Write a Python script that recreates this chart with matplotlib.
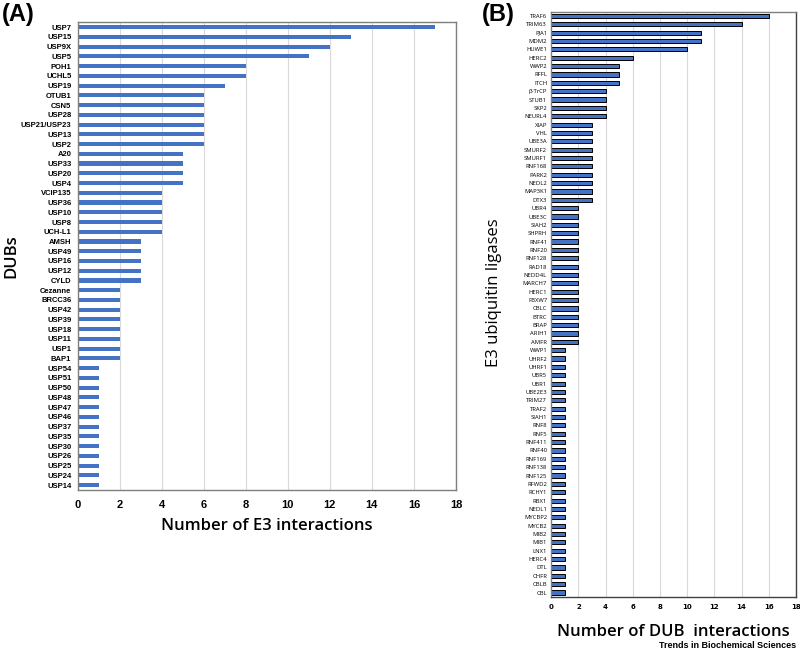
import matplotlib
matplotlib.use("Agg")
import matplotlib.pyplot as plt
import numpy as np

# Panel A: DUBs and number of E3 interactions (top to bottom)
dubs = ["USP7", "USP15", "USP9X", "USP5", "POH1", "UCHL5", "USP19", "OTUB1",
        "CSN5", "USP28", "USP21/USP23", "USP13", "USP2", "A20", "USP33", "USP20",
        "USP4", "VCIP135", "USP36", "USP10", "USP8", "UCH-L1", "AMSH", "USP49",
        "USP16", "USP12", "CYLD", "Cezanne", "BRCC36", "USP42", "USP39", "USP18",
        "USP11", "USP1", "BAP1", "USP54", "USP51", "USP50", "USP48", "USP47",
        "USP46", "USP37", "USP35", "USP30", "USP26", "USP25", "USP24", "USP14"]
dub_counts = [17, 13, 12, 11, 8, 8, 7, 6,
              6, 6, 6, 6, 6, 5, 5, 5,
              5, 4, 4, 4, 4, 4, 3, 3,
              3, 3, 3, 2, 2, 2, 2, 2,
              2, 2, 2, 1, 1, 1, 1, 1,
              1, 1, 1, 1, 1, 1, 1, 1]

# Panel B: E3 ligases and number of DUB interactions (top to bottom)
e3s = ["TRAF6", "TRIM63", "PJA1", "MDM2", "HUWE1", "HERC2", "WWP2", "RFFL",
       "ITCH", "β-TrCP", "STUB1", "SKP2", "NEURL4", "XIAP", "VHL", "UBE3A",
       "SMURF2", "SMURF1", "RNF168", "PARK2", "NEDL2", "MAP3K1", "DTX3", "UBR4",
       "UBE3C", "SIAH2", "SHPRH", "RNF41", "RNF20", "RNF128", "RAD18", "NEDD4L",
       "MARCH7", "HERC1", "FBXW7", "CBLC", "BTRC", "BRAP", "ARIH1", "AMFR",
       "WWP1", "UHRF2", "UHRF1", "UBR5", "UBR1", "UBE2E3", "TRIM27", "TRAF2",
       "SIAH1", "RNF8", "RNF5", "RNF411", "RNF40", "RNF169", "RNF138", "RNF125",
       "RFWD2", "RCHY1", "RBX1", "NEDL1", "MYCBP2", "MYCB2", "MIB2", "MIB1",
       "LNX1", "HERC4", "DTL", "CHFR", "CBLB", "CBL"]
e3_counts = [16, 14, 11, 11, 10, 6, 5, 5,
             5, 4, 4, 4, 4, 3, 3, 3,
             3, 3, 3, 3, 3, 3, 3, 2,
             2, 2, 2, 2, 2, 2, 2, 2,
             2, 2, 2, 2, 2, 2, 2, 2,
             1, 1, 1, 1, 1, 1, 1, 1,
             1, 1, 1, 1, 1, 1, 1, 1,
             1, 1, 1, 1, 1, 1, 1, 1,
             1, 1, 1, 1, 1, 1]

xticks = list(range(0, 19, 2))
bar_blue = "#4472C4"
frame_grey = "#7f7f7f"

fig = plt.figure(figsize=(8, 6.55), dpi=100)


def style_axes(ax):
    ax.set_xlim(0, 18)
    ax.set_xticks(xticks)
    ax.grid(axis="x", color="#d9d9d9", linewidth=0.8)
    ax.set_axisbelow(True)
    for s in ax.spines.values():
        s.set_color(frame_grey)
        s.set_linewidth(1.0)
    ax.tick_params(axis="both", length=0, pad=3)


# --- Panel A ---
axA = fig.add_axes([0.097, 0.252, 0.473, 0.714])
yA = np.arange(len(dubs))
axA.barh(yA, dub_counts, height=0.42, color=bar_blue)
axA.set_yticks(yA)
axA.set_yticklabels(dubs, fontsize=5.5, fontweight="bold", family="Liberation Sans")
axA.set_ylim(len(dubs) - 0.5, -0.5)
style_axes(axA)
axA.tick_params(axis="y", pad=4.5)
for lab in axA.get_xticklabels():
    lab.set_fontsize(8)
    lab.set_fontweight("bold")
    lab.set_family("Liberation Sans")
axA.tick_params(axis="x", pad=7)
axA.set_xlabel("Number of E3 interactions", fontsize=12, fontweight="semibold",
               family="Open Sans", labelpad=6)
axA.set_ylabel("DUBs", fontsize=12, fontweight="semibold", family="Open Sans")
axA.yaxis.set_label_coords(-0.155, 0.5)
fig.text(0.002, 0.995, "(A)", fontsize=17, fontweight="bold", family="Liberation Sans",
         ha="left", va="top")

# --- Panel B ---
axB = fig.add_axes([0.689, 0.089, 0.306, 0.893])
yB = np.arange(len(e3s))
axB.barh(yB, e3_counts, height=0.5, color=bar_blue, edgecolor="black", linewidth=0.7)
axB.set_yticks(yB)
axB.set_yticklabels(e3s, fontsize=4.2, family="Open Sans")
axB.set_ylim(len(e3s) - 0.5, -0.5)
style_axes(axB)
axB.spines["right"].set_color("#404040")
axB.spines["bottom"].set_color("#404040")
for lab in axB.get_xticklabels():
    lab.set_fontsize(5)
    lab.set_fontweight("bold")
axB.tick_params(axis="x", pad=5)
axB.set_xlabel("Number of DUB  interactions", fontsize=12, fontweight="semibold",
               family="Open Sans", labelpad=10)
axB.set_ylabel("E3 ubiquitin ligases", fontsize=12, family="Open Sans")
axB.yaxis.set_label_coords(-0.2, 0.52)
fig.text(0.602, 0.995, "(B)", fontsize=17, fontweight="bold", family="Liberation Sans",
         ha="left", va="top")

fig.text(0.995, 0.008, "Trends in Biochemical Sciences", fontsize=6.5, fontweight="bold",
         family="Liberation Sans", ha="right", va="bottom")

fig.savefig("out.png", dpi=100)
